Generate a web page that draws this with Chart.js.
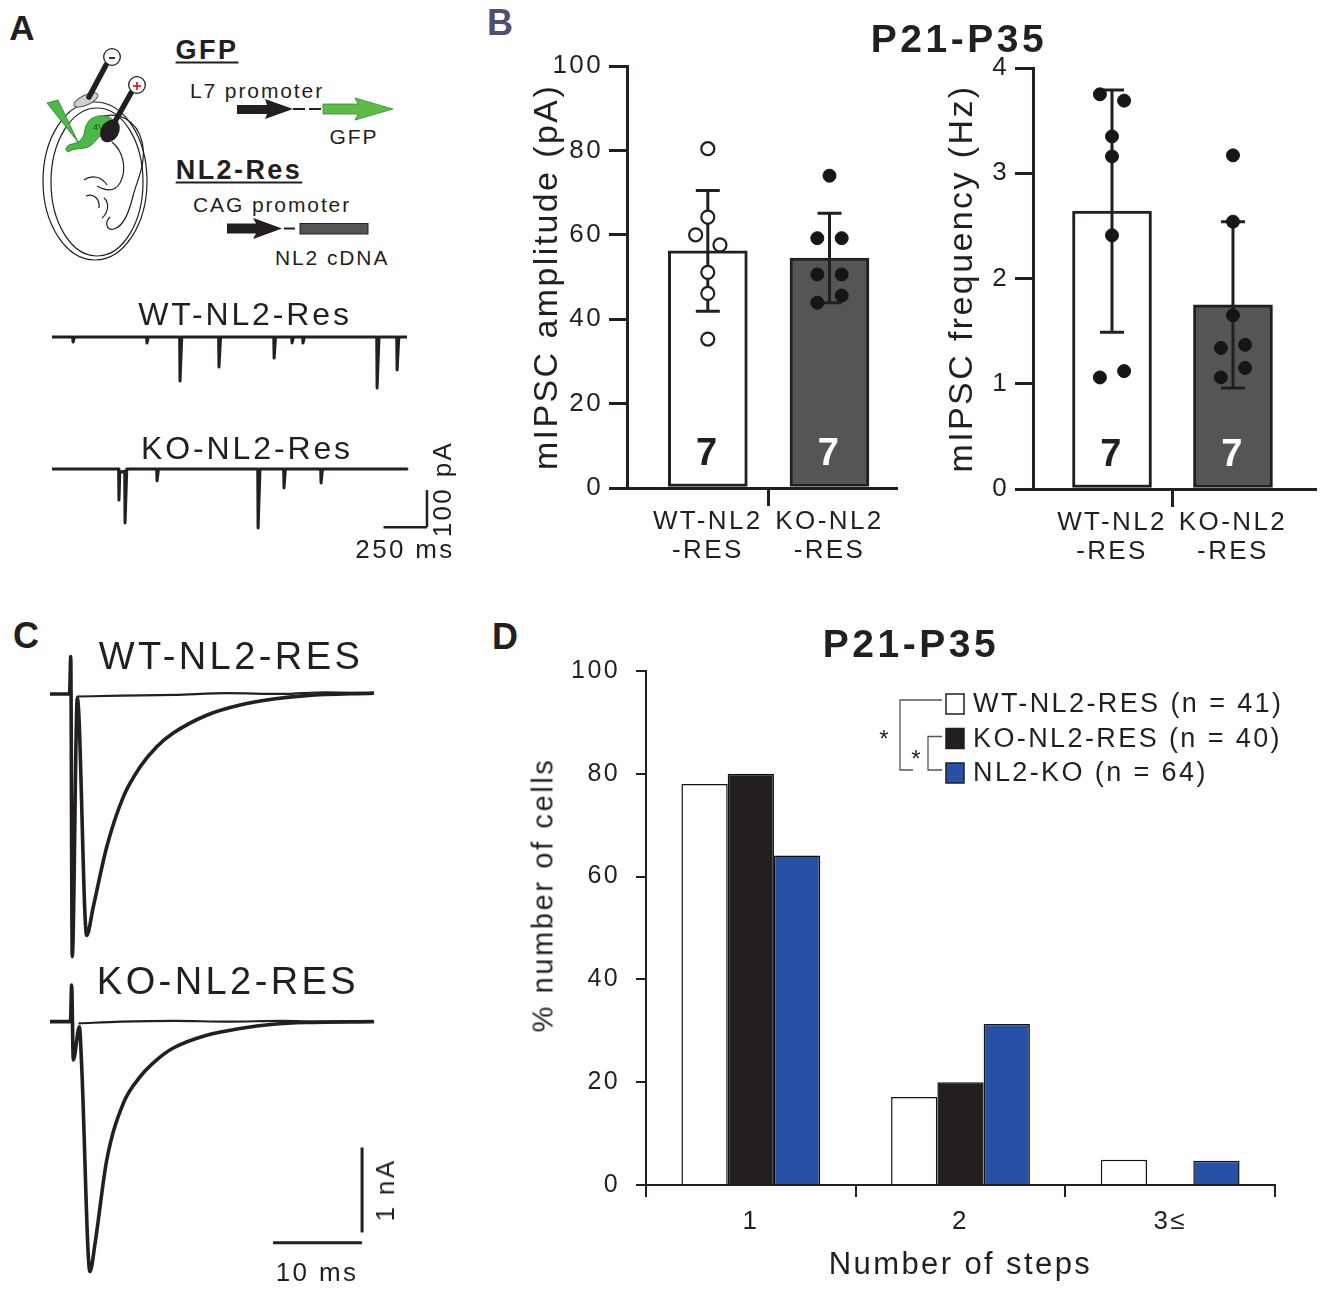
<!DOCTYPE html>
<html><head><meta charset="utf-8"><title>NL2 rescue figure</title>
<script src="https://cdn.jsdelivr.net/npm/chart.js@4.4.1/dist/chart.umd.min.js"></script>
<style>
html,body{margin:0;padding:0;background:#fff}
#fig{position:relative;width:1323px;height:1291px;overflow:hidden;background:#fff;font-family:"Liberation Sans",Arial,Helvetica,sans-serif;color:#231f20}
#fig canvas{position:absolute}
.t{position:absolute;white-space:nowrap;line-height:1;letter-spacing:0.09em;transform:translate(-50%,-50%)}
.t.l{transform:translate(0,-50%)}
.t.r{transform:translate(-50%,-50%) rotate(-90deg)}
.b{font-weight:bold}
.u{text-decoration:underline;text-underline-offset:3px;text-decoration-thickness:2px}
</style></head>
<body><div id="fig">

<svg width="470" height="290" viewBox="0 0 470 290" style="position:absolute;left:0;top:0">
  <g fill="none" stroke="#231f20" stroke-width="1.2">
    <ellipse cx="95" cy="181" rx="52" ry="79"/>
    <ellipse cx="97" cy="182" rx="46" ry="74"/>
    <path d="M 98 118 C 118 110, 137 120, 142 142 C 147 163, 137 180, 133 196 C 129 212, 124 226, 114 229 C 107 231, 104 223, 110 217"/>
    <path d="M 112 142 C 124 152, 127 170, 120 183 C 114 193, 104 190, 97 186"/>
    <path d="M 84 180 C 92 174, 102 177, 107 185"/>
    <path d="M 86 196 C 94 193, 100 199, 99 208"/>
    <path d="M 104 198 C 110 203, 108 213, 102 218"/>
  </g>
  <path d="M 88 122 C 92 115, 108 113, 113 120 C 116 128, 110 133, 104 134 C 98 136, 96 142, 90 146 C 84 150, 76 147, 68 152 C 64 150, 66 145, 72 144 C 78 143, 82 140, 84 134 C 85 128, 86 125, 88 122 Z" fill="#4cb848" stroke="#2a7a2a" stroke-width="0.8"/>
  <text x="93" y="130" font-size="9" fill="#1d5a1d" font-family="Liberation Sans, Arial">4V</text>
  <polygon points="47,103 58,100 78,142" fill="#4cb848" stroke="#2a7a2a" stroke-width="0.8"/>
  <ellipse cx="86" cy="100" rx="13" ry="5" transform="rotate(-25 86 100)" fill="#d0d0d0" stroke="#555" stroke-width="1"/>
  <line x1="106" y1="65" x2="89" y2="97" stroke="#231f20" stroke-width="5.5" stroke-linecap="round"/>
  <circle cx="112" cy="57" r="8.3" fill="#fff" stroke="#231f20" stroke-width="1.3"/>
  <line x1="109" y1="58" x2="115" y2="58" stroke="#231f20" stroke-width="1.8"/>
  <line x1="131" y1="93" x2="113" y2="125" stroke="#231f20" stroke-width="5.5" stroke-linecap="round"/>
  <ellipse cx="110" cy="131" rx="9" ry="12" transform="rotate(30 110 131)" fill="#231f20"/>
  <circle cx="137" cy="85" r="8.3" fill="#fff" stroke="#231f20" stroke-width="1.3"/>
  <line x1="133" y1="86" x2="141" y2="86" stroke="#e02020" stroke-width="1.8"/>
  <line x1="137" y1="82" x2="137" y2="90" stroke="#e02020" stroke-width="1.8"/>
  <!-- GFP construct -->
  <polygon points="237,105 267,105 265,99 293,109 265,119 267,114 237,114" fill="#231f20"/>
  <line x1="293" y1="109" x2="323" y2="109" stroke="#231f20" stroke-width="2" stroke-dasharray="12 4"/>
  <polygon points="323,104 358,104 355,98 393,109 355,120 358,114 323,114" fill="#5dbb46" stroke="#3b8a2e" stroke-width="0.8"/>
  <!-- NL2 construct -->
  <polygon points="227,223.5 256,223.5 253,218 282,228.5 253,239 256,233.5 227,233.5" fill="#231f20"/>
  <line x1="284" y1="228.5" x2="295" y2="228.5" stroke="#231f20" stroke-width="2"/>
  <rect x="300" y="223.5" width="68" height="10.5" fill="#555555" stroke="#222" stroke-width="1"/>
</svg>

<canvas id="cA1" width="365" height="92" style="left:47px;top:313px"></canvas>
<canvas id="cA2" width="390" height="95" style="left:47px;top:445px"></canvas>
<canvas id="cB1" width="385" height="545" style="left:520px;top:40px"></canvas>
<canvas id="cB2" width="388" height="545" style="left:935px;top:40px"></canvas>
<canvas id="cC1" width="334" height="330" style="left:45px;top:640px"></canvas>
<canvas id="cC2" width="334" height="320" style="left:45px;top:970px"></canvas>
<canvas id="cD" width="790" height="651" style="left:520px;top:640px"></canvas>

<div class="t b" style="left:22px;top:27px;font-size:35px;letter-spacing:0">A</div>
<div class="t b" style="left:500px;top:23px;font-size:36px;letter-spacing:0;color:#4f4f72">B</div>
<div class="t b" style="left:26px;top:636px;font-size:36px;letter-spacing:0">C</div>
<div class="t b" style="left:505px;top:637px;font-size:36px;letter-spacing:0">D</div>
<div class="t b" style="left:959px;top:38px;font-size:39px">P21-P35</div>
<div class="t b" style="left:911px;top:643px;font-size:39px">P21-P35</div>

<div class="t b u" style="left:207px;top:50px;font-size:27px">GFP</div>
<div class="t l" style="left:190px;top:90px;font-size:21px">L7 promoter</div>
<div class="t" style="left:354px;top:135.5px;font-size:21px">GFP</div>
<div class="t b u" style="left:239px;top:170px;font-size:27px">NL2-Res</div>
<div class="t l" style="left:193px;top:204px;font-size:21px">CAG promoter</div>
<div class="t l" style="left:275px;top:256.5px;font-size:21px">NL2 cDNA</div>
<div class="t" style="left:245px;top:313.5px;font-size:32px">WT-NL2-Res</div>
<div class="t" style="left:247px;top:448px;font-size:32px">KO-NL2-Res</div>
<div class="t" style="left:405px;top:549px;font-size:26px">250 ms</div>
<div class="t r" style="left:442px;top:489px;font-size:26px">100 pA</div>
<div class="t" style="left:231px;top:656px;font-size:38px">WT-NL2-RES</div>
<div class="t" style="left:228px;top:981px;font-size:38px">KO-NL2-RES</div>
<div class="t" style="left:317px;top:1272px;font-size:26px">10 ms</div>
<div class="t r" style="left:385px;top:1190px;font-size:26px">1 nA</div>
<div class="t r" style="left:543px;top:895px;font-size:29px">% number of cells</div>
</div>

<script>
// ---------- DATA ----------
// Panel A: spontaneous mIPSC traces (time in ms, current in pA)
const wtSponT = [0,119,121,129,544,546,554,734,736,746,958,960,969,1275,1277,1285,1378,1380,1388,1441,1443,1451,1867,1869,1880,1982,1984,1994,2041];
const wtSponI = [0,0,-13.5,0,0,-16,0,0,-119,0,0,-81,0,0,-57,0,0,-16,0,0,-16,0,0,-138,0,0,-89,0,0];
const koSponT = [0,383,385,390,418,420,430,602,604,612,1183,1185,1196,1332,1334,1342,1545,1547,1555,2041];
const koSponI = [0,0,-84,-8,-6,-146,0,0,-32,0,0,-159,0,0,-51,0,0,-38,0,0];
const scaleBarA = {ms:250, pA:100};

// Panel B: mIPSC amplitude & frequency
const groupsB = [['WT-NL2','-RES'],['KO-NL2','-RES']];
const cellsN = [7, 7];
const ampMean = [56.2, 54.5];
const ampSD = [14.3, 10.6];
const ampWT = [80.4, 64.2, 60.0, 57.6, 51.1, 46.1, 35.3];
const ampKO = [74.0, 59.2, 59.2, 50.6, 50.6, 43.9, 45.6];
const freqMean = [2.64, 1.75];
const freqSD = [1.15, 0.79];
const freqWT = [3.75, 3.69, 3.35, 3.16, 2.41, 1.06, 1.12];
const freqKO = [3.17, 2.54, 1.65, 1.34, 1.37, 1.15, 1.06];
// horizontal scatter offsets of the dots (fraction of group spacing)
const ampWTJit = [0, 0, -0.1, 0.1, 0, 0, 0];
const ampKOJit = [0, -0.1, 0.1, -0.1, 0.1, -0.1, 0.1];
const freqWTJit = [-0.1, 0.1, 0, 0, 0, -0.1, 0.1];
const freqKOJit = [0, 0, 0, -0.1, 0.1, 0.1, -0.1];

// Panel C: evoked IPSC traces (time in ms, current in nA)
const wtEvT = [0,2.2,2.33,2.5,3.07,4.12,4.87,6.37,8.24,10.11,11.99,13.85,17.6,21.35,25.1,28.8,36.3];
const wtEvI = [0,0,0.44,-3.09,-0.05,-2.84,-2.50,-1.80,-1.21,-0.86,-0.62,-0.46,-0.25,-0.13,-0.06,-0.02,0.01];
const wtNullT = [3.07,8,14,20,26,31,36.3];
const wtNullI = [-0.03,-0.02,-0.01,0.01,0.0,0.02,0.01];
const koEvT = [0,2.3,2.43,2.62,3.3,3.55,4.49,5.06,6.37,8.24,10.11,11.99,13.85,17.6,21.35,25.1,28.8,36.3];
const koEvI = [0,0,0.43,-0.45,-0.06,-0.5,-2.94,-2.61,-1.63,-0.96,-0.65,-0.45,-0.31,-0.16,-0.08,-0.03,-0.01,0];
const koNullT = [3.3,8,14,20,26,31,36.3];
const koNullI = [-0.02,0.0,0.01,0.0,0.01,0.0,0.0];
const scaleBarC = {ms:10, nA:1};

// Panel D: number of steps
const stepCats = ['1', '2', '3≤'];
const dNames = ['WT-NL2-RES', 'KO-NL2-RES', 'NL2-KO'];
const dN = [41, 40, 64];
const dWT = [78.0, 17.1, 4.9];
const dKO = [80.0, 20.0, 0];
const dNL2KO = [64.1, 31.3, 4.7];

// ---------- SETUP ----------
const INK = '#231f20';
Chart.defaults.font.family = '"Liberation Sans", Arial, Helvetica, sans-serif';
Chart.defaults.color = INK;
Chart.defaults.animation = false;
Chart.defaults.responsive = false;
Chart.defaults.plugins.legend.display = false;
Chart.defaults.plugins.tooltip.enabled = false;

Chart.register({
  id: 'spacing',
  defaults: {px: 2.4},
  beforeDraw(c, a, o) { c.ctx.letterSpacing = (o.px || 0) + 'px'; }
});

const scaleBarPlugin = {
  id: 'scalebar',
  afterDatasetsDraw(c, a, o) {
    if (!o.bars) return;
    const ctx = c.ctx, xs = c.scales.x, ys = c.scales.y;
    ctx.save();
    ctx.strokeStyle = INK; ctx.lineWidth = o.width || 2.5; ctx.lineCap = 'butt';
    o.bars.forEach(b => {
      ctx.beginPath();
      ctx.moveTo(xs.getPixelForValue(b[0]), ys.getPixelForValue(b[1]));
      ctx.lineTo(xs.getPixelForValue(b[2]), ys.getPixelForValue(b[3]));
      ctx.stroke();
    });
    ctx.restore();
  }
};

function traceChart(id, sets, xr, yr, bars, barW) {
  return new Chart(document.getElementById(id), {
    type: 'line',
    data: {datasets: sets.map(s => ({
      data: s.t.map((t, i) => ({x: t, y: s.i[i]})),
      borderColor: INK, borderWidth: s.w, pointRadius: 0,
      tension: s.smooth ? 0.4 : 0,
      cubicInterpolationMode: s.smooth ? 'monotone' : 'default',
      borderJoinStyle: 'round', borderCapStyle: 'round', fill: false
    }))},
    options: {
      layout: {padding: 5},
      scales: {
        x: {type: 'linear', display: false, min: xr[0], max: xr[1]},
        y: {type: 'linear', display: false, min: yr[0], max: yr[1]}
      },
      plugins: {scalebar: {bars: bars, width: barW}}
    },
    plugins: [scaleBarPlugin]
  });
}

// Panel A traces
traceChart('cA1', [{t: wtSponT, i: wtSponI, w: 3}], [0, 2041], [-170.1, 51.3], null);
const aCorner = [2156, -157];
traceChart('cA2', [{t: koSponT, i: koSponI, w: 3}], [0, 2185], [-178.2, 51.3], [
  [aCorner[0] - scaleBarA.ms, aCorner[1], aCorner[0], aCorner[1]],
  [aCorner[0], aCorner[1], aCorner[0], aCorner[1] + scaleBarA.pA]
], 2.5);

// Panel C traces
traceChart('cC1', [
  {t: wtNullT, i: wtNullI, w: 2.2, smooth: true},
  {t: wtEvT, i: wtEvI, w: 3.6, smooth: true}
], [0, 36.4], [-3.188, 0.576], null);
const cH = [35.06, -2.6], cV = [35.06, -2.48];
traceChart('cC2', [
  {t: koNullT, i: koNullI, w: 2.2, smooth: true},
  {t: koEvT, i: koEvI, w: 3.6, smooth: true}
], [0, 36.4], [-3.098, 0.549], [
  [cH[0] - scaleBarC.ms, cH[1], cH[0], cH[1]],
  [cV[0], cV[1], cV[0], cV[1] + scaleBarC.nA]
], 3);

// Panel B
const errPlugin = {
  id: 'err',
  afterDatasetDraw(c, args, o) {
    if (args.index !== 0 || !o.mean) return;
    const xs = c.scales.x, ys = c.scales.y, ctx = c.ctx;
    ctx.save();
    ctx.strokeStyle = INK; ctx.lineWidth = 3;
    o.mean.forEach((m, i) => {
      const x = xs.getPixelForValue(i + 1);
      const y1 = ys.getPixelForValue(m + o.sd[i]);
      const y2 = ys.getPixelForValue(m - o.sd[i]);
      ctx.beginPath();
      ctx.moveTo(x, y1); ctx.lineTo(x, y2);
      ctx.moveTo(x - o.cap, y1); ctx.lineTo(x + o.cap, y1);
      ctx.moveTo(x - o.cap, y2); ctx.lineTo(x + o.cap, y2);
      ctx.stroke();
    });
    ctx.restore();
  }
};
const countPlugin = {
  id: 'counts',
  afterDatasetsDraw(c, a, o) {
    if (!o.n) return;
    const ctx = c.ctx;
    ctx.save();
    ctx.font = 'bold 38px "Liberation Sans", Arial, sans-serif';
    ctx.textAlign = 'center'; ctx.textBaseline = 'middle';
    o.n.forEach((n, i) => {
      ctx.fillStyle = o.colors[i];
      ctx.fillText(String(n), c.scales.x.getPixelForValue(i + 1), c.chartArea.bottom - o.offset);
    });
    ctx.restore();
  }
};

function barScatter(id, o) {
  return new Chart(document.getElementById(id), {
    type: 'bar',
    data: {datasets: [
      {type: 'bar', data: o.mean.map((m, i) => ({x: i + 1, y: m})),
       backgroundColor: ['#ffffff', '#555555'], borderColor: INK, borderWidth: 3,
       borderSkipped: false, barThickness: 79, order: 2},
      {type: 'scatter', data: o.wt.map((v, i) => ({x: 1 + o.wtJ[i], y: v})),
       pointRadius: 6.5, pointBackgroundColor: o.wtFill, pointBorderColor: o.wtFill === '#ffffff' ? INK : '#161616',
       pointBorderWidth: o.wtFill === '#ffffff' ? 2.2 : 1, order: 1},
      {type: 'scatter', data: o.ko.map((v, i) => ({x: 2 + o.koJ[i], y: v})),
       pointRadius: 6.5, pointBackgroundColor: '#161616', pointBorderColor: '#161616', pointBorderWidth: 1, order: 1}
    ]},
    options: {
      layout: {padding: o.pad},
      scales: {
        x: {
          type: 'linear', min: o.xmin, max: o.xmax, offset: false,
          afterBuildTicks: s => { s.ticks = [{value: 1}, {value: 1.5}, {value: 2}]; },
          afterFit: s => { s.height = o.xh; },
          ticks: {callback: v => v === 1 ? groupsB[0] : (v === 2 ? groupsB[1] : ''),
                  font: {size: 26, lineHeight: 1.12}, padding: 1, maxRotation: 0, autoSkip: false, color: INK},
          grid: {offset: false, drawOnChartArea: false, drawTicks: true, tickLength: 18, lineWidth: 3,
                 color: c => (c.tick && c.tick.value === 1.5) ? INK : 'rgba(0,0,0,0)'},
          border: {display: true, width: 3, color: INK}
        },
        y: {
          min: 0, max: o.ymax,
          afterFit: s => { s.width = o.yw; },
          ticks: {stepSize: o.step, font: {size: 26}, padding: 6, color: INK},
          grid: {drawOnChartArea: false, drawTicks: true, tickLength: 18, lineWidth: 3, color: INK},
          border: {display: true, width: 3, color: INK},
          title: {display: true, text: o.title, font: {size: 34}, padding: {top: o.tp, bottom: 0}, color: INK}
        }
      },
      plugins: {
        err: {mean: o.mean, sd: o.sd, cap: 12},
        counts: {n: cellsN, colors: [INK, '#ffffff'], offset: 33}
      }
    },
    plugins: [errPlugin, countPlugin]
  });
}

barScatter('cB1', {mean: ampMean, sd: ampSD, wt: ampWT, ko: ampKO, wtJ: ampWTJit, koJ: ampKOJit,
  wtFill: '#ffffff', ymax: 100, step: 20, title: 'mIPSC amplitude (pA)',
  xmin: 0.336, xmax: 2.549, xh: 97, yw: 107, tp: 7.6, pad: {left: 0, top: 26, right: 8, bottom: 0}});
barScatter('cB2', {mean: freqMean, sd: freqSD, wt: freqWT, ko: freqKO, wtJ: freqWTJit, koJ: freqKOJit,
  wtFill: '#161616', ymax: 4, step: 1, title: 'mIPSC frequency (Hz)',
  xmin: 0.347, xmax: 2.678, xh: 96, yw: 98, tp: 7.6, pad: {left: 0, top: 28, right: 8, bottom: 0}});

// Panel D
const dLegend = {
  id: 'dleg',
  afterDatasetsDraw(c, a, o) {
    const ctx = c.ctx, ca = c.chartArea;
    const sx = ca.right - 329;
    const rows = c.data.datasets.map((d, i) => ca.top + 33 + i * 34.5);
    ctx.save();
    c.data.datasets.forEach((d, i) => {
      const cy = rows[i];
      ctx.fillStyle = d.backgroundColor;
      ctx.strokeStyle = INK; ctx.lineWidth = 1.5;
      ctx.fillRect(sx, cy - 10, 18, 20);
      ctx.strokeRect(sx, cy - 10, 18, 20);
      ctx.fillStyle = INK;
      ctx.font = '27px "Liberation Sans", Arial, sans-serif';
      ctx.textAlign = 'left'; ctx.textBaseline = 'middle';
      ctx.fillText(d.label, sx + 27, cy + 1);
    });
    ctx.strokeStyle = '#555'; ctx.lineWidth = 1.3;
    ctx.beginPath();
    ctx.moveTo(sx - 4, rows[0] - 4); ctx.lineTo(sx - 46, rows[0] - 4);
    ctx.lineTo(sx - 46, rows[2] - 3); ctx.lineTo(sx - 33, rows[2] - 3);
    ctx.moveTo(sx - 4, rows[1] - 2); ctx.lineTo(sx - 18, rows[1] - 2);
    ctx.lineTo(sx - 18, rows[2] - 3); ctx.lineTo(sx - 4, rows[2] - 3);
    ctx.stroke();
    ctx.fillStyle = INK;
    ctx.font = '24px "Liberation Sans", Arial, sans-serif';
    ctx.textAlign = 'center'; ctx.textBaseline = 'alphabetic';
    ctx.fillText('*', sx - 61, rows[1] + 8);
    ctx.fillText('*', sx - 29, rows[2] - 6);
    ctx.restore();
  }
};

new Chart(document.getElementById('cD'), {
  type: 'bar',
  data: {labels: stepCats, datasets: [
    {label: dNames[0] + ' (n = ' + dN[0] + ')', data: dWT, backgroundColor: '#ffffff'},
    {label: dNames[1] + ' (n = ' + dN[1] + ')', data: dKO, backgroundColor: '#231f20'},
    {label: dNames[2] + ' (n = ' + dN[2] + ')', data: dNL2KO, backgroundColor: '#2651a6'}
  ]},
  options: {
    datasets: {bar: {categoryPercentage: 0.662, barPercentage: 1, borderColor: '#111', borderWidth: 1.5, borderSkipped: 'start'}},
    layout: {padding: {left: 0, top: 29, right: 35, bottom: 0}},
    scales: {
      x: {
        afterFit: s => { s.height = 106; },
        grid: {drawOnChartArea: false, drawTicks: true, tickLength: 12, lineWidth: 2, color: INK, offset: true},
        border: {display: true, width: 2, color: INK},
        ticks: {font: {size: 26}, padding: 9, color: INK},
        title: {display: true, text: 'Number of steps', font: {size: 31}, padding: {top: 0, bottom: 7}, color: INK}
      },
      y: {
        min: 0, max: 100,
        afterFit: s => { s.width = 126; },
        ticks: {stepSize: 20, font: {size: 25}, padding: 16, color: INK},
        grid: {drawOnChartArea: false, drawTicks: true, tickLength: 10, lineWidth: 2, color: INK},
        border: {display: true, width: 2, color: INK}
      }
    }
  },
  plugins: [dLegend]
});
</script>
</body></html>
